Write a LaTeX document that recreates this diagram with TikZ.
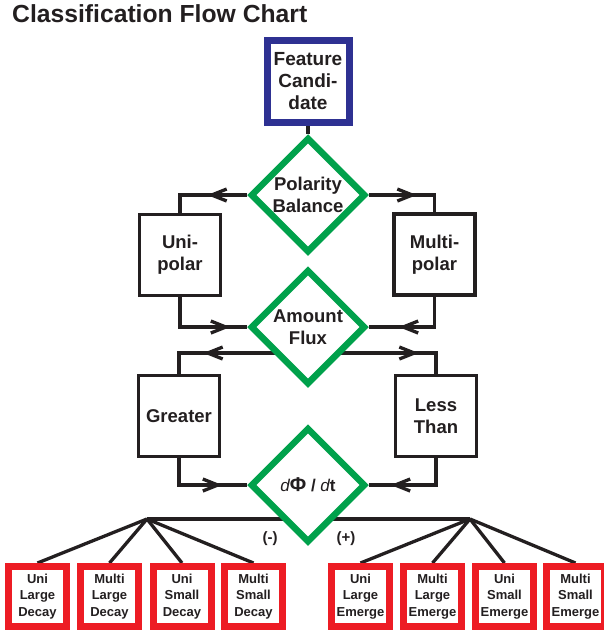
\documentclass[tikz,border=0pt]{standalone}
\usepackage{fontspec}
\setmainfont{Liberation Sans}
\usetikzlibrary{shapes.geometric,arrows.meta,decorations.markings,calc}
\definecolor{fcblue}{RGB}{46,49,146}
\definecolor{dgreen}{RGB}{0,161,75}
\definecolor{outred}{RGB}{237,28,36}
\definecolor{ink}{RGB}{35,31,32}
\pgfdeclarelayer{bg}
\pgfsetlayers{bg,main}
\tikzset{
  txt/.style={text=ink,align=center,font=\fontsize{18.5}{22}\selectfont\bfseries},
  fcbox/.style={txt,draw=fcblue,line width=7pt,fill=white,minimum width=82pt,minimum height=82pt,inner sep=0pt},
  dia/.style={txt,diamond,aspect=1,draw=dgreen,line width=6.5pt,fill=white,minimum width=115pt,minimum height=115pt,inner sep=0pt},
  catbox/.style={txt,draw=ink,line width=3.5pt,fill=white,minimum width=81pt,minimum height=81pt,inner sep=0pt},
  outbox/.style={text=ink,align=center,font=\fontsize{13}{16.5}\selectfont\bfseries,draw=outred,line width=7pt,fill=white,minimum width=58pt,minimum height=60pt,inner sep=0pt},
  conn/.style={draw=ink,line width=3.3pt},
  midarr/.style={postaction={decorate},decoration={markings,mark=at position #1 with {\arrow[ink,line width=3.3pt]{Straight Barb[length=15pt,width=12pt]}}}},
  lbl/.style={text=ink,font=\fontsize{15}{18}\selectfont\bfseries,inner sep=0pt}
}
\begin{document}
\begin{tikzpicture}[x=1pt,y=-1pt]
\useasboundingbox (0,0) rectangle (603,632);
\node[anchor=base west,text=ink,inner sep=0pt,font=\fontsize{24.7}{28}\selectfont\bfseries] (title) at (12,22) {Classification Flow Chart};
\node[fcbox,font=\fontsize{19}{22}\selectfont\bfseries] (fc) at (308,81.5) {Feature\\Candi-\\date};
\node[dia] (pb) at (308,195) {Polarity\\Balance};
\node[catbox] (uni) at (180,255) {Uni-\\polar};
\node[catbox] (multi) at (434.5,254.5) {Multi-\\polar};
\node[dia] (af) at (308,327) {Amount\\Flux};
\node[catbox] (gr) at (179,416) {Greater};
\node[catbox] (lt) at (436,416) {Less\\Than};
\coordinate (apexL) at (147,519);
\coordinate (apexR) at (470,519);
\node[dia] (dphi) at (308,485) {\fontsize{17}{20}\selectfont{\mdseries\itshape d}{\fontsize{20}{20}\selectfont\bfseries Φ} / {\mdseries\itshape d}t};
\node[lbl] (minus) at (270,539) {(-)};
\node[lbl] (plus) at (346,539) {(+)};
\node[outbox] (b1) at (37.5,596.5) {Uni\\Large\\Decay};
\node[outbox] (b2) at (109.5,596.5) {Multi\\Large\\Decay};
\node[outbox] (b3) at (182,596.5) {Uni\\Small\\Decay};
\node[outbox] (b4) at (253.5,596.5) {Multi\\Small\\Decay};
\node[outbox] (b5) at (360.5,596.5) {Uni\\Large\\Emerge};
\node[outbox] (b6) at (432.5,596.5) {Multi\\Large\\Emerge};
\node[outbox] (b7) at (504.5,596.5) {Uni\\Small\\Emerge};
\node[outbox] (b8) at (575.5,596.5) {Multi\\Small\\Emerge};
\begin{pgfonlayer}{bg}
\draw[conn] (fc.south) -- (pb.north);
\draw[conn,midarr=40pt] (pb.west) -| (uni.north);
\draw[conn,midarr=48pt] (pb.east) -| (multi.north);
\draw[conn,midarr=-17pt] (uni.south) |- (af.west);
\draw[conn,midarr=-30pt] (multi.south) |- (af.east);
\draw[conn,midarr=-45pt] ($(af.center)+(0,26)$) -| (gr.north);
\draw[conn,midarr=-38pt] ($(af.center)+(0,26)$) -| (lt.north);
\draw[conn,midarr=-25pt] (gr.south) |- (dphi.west);
\draw[conn,midarr=-22pt] (lt.south) |- (dphi.east);
\draw[conn] (apexL) -- (apexR);
\foreach \i in {1,...,4} \draw[conn] (apexL) -- (b\i.north);
\foreach \i in {5,...,8} \draw[conn] (apexR) -- (b\i.north);
\end{pgfonlayer}
\end{tikzpicture}
\end{document}
